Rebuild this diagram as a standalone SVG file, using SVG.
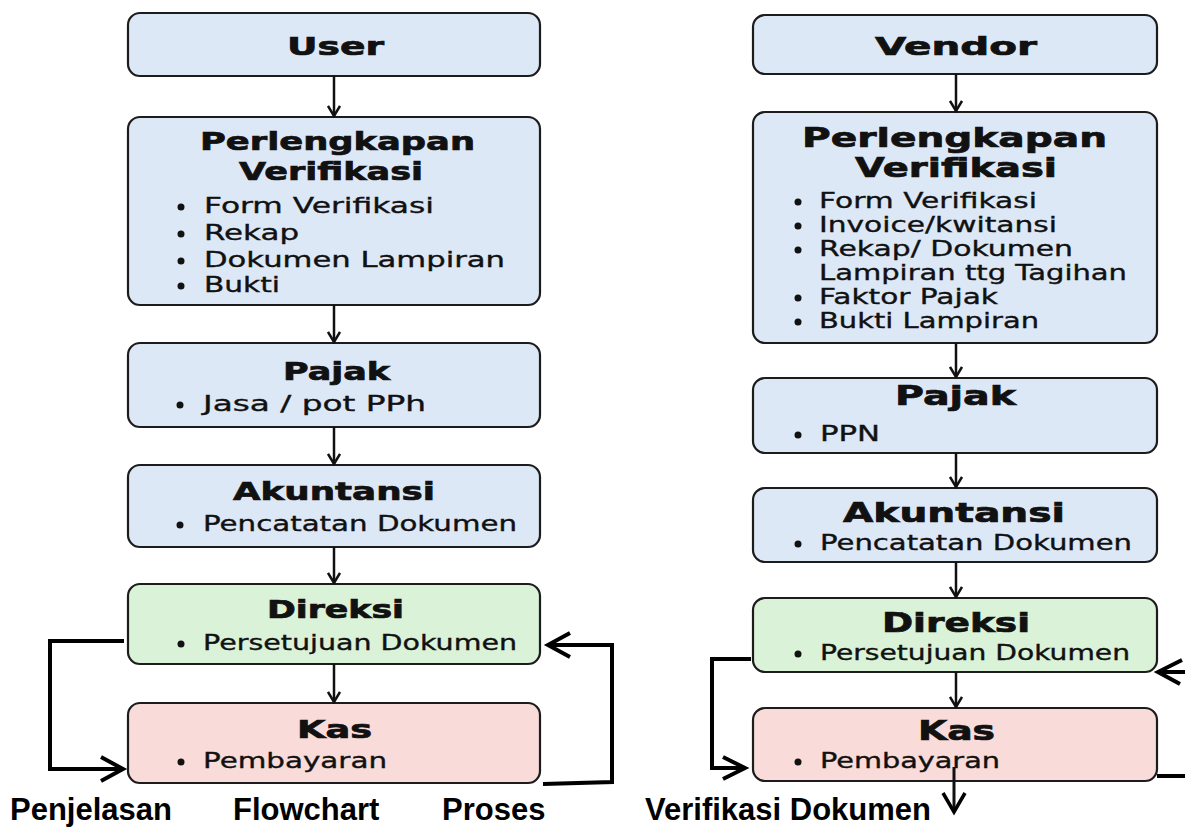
<svg xmlns="http://www.w3.org/2000/svg" width="1185" height="827" viewBox="0 0 1185 827">
<defs>
<style>
.box{stroke:#1c1c1c;stroke-width:2.2}
.blue{fill:#dde8f7}
.green{fill:#daf3d8}
.pink{fill:#f9dcd9}
.t{font-family:"DejaVu Sans",sans-serif;font-weight:bold;fill:#111;stroke:#111;stroke-width:0.7}
.b{font-family:"DejaVu Sans",sans-serif;fill:#111;font-size:21px;stroke:#111;stroke-width:0.35}
.dot{fill:#111}
.cap{font-family:"Liberation Sans",Arial,sans-serif;font-weight:bold;font-size:31px;fill:#000}
.c{fill:none;stroke:#111;stroke-width:2.5}
.lp{fill:none;stroke:#000;stroke-width:4;stroke-linejoin:miter}
</style>
<marker id="ah" markerWidth="14" markerHeight="14" viewBox="0 0 14 14" refX="12" refY="7" orient="auto" markerUnits="userSpaceOnUse">
<path d="M2,1 L12,7 L2,13" fill="none" stroke="#111" stroke-width="2.5"/>
</marker>
</defs>
<rect width="1185" height="827" fill="#fff"/>

<!-- Left column -->
<g id="user"><rect class="box blue" x="128" y="13" width="412" height="63" rx="12"/>
<text class="t" font-size="25" x="287" y="55" textLength="97" lengthAdjust="spacingAndGlyphs">User</text></g>

<g id="perlengkapan-user"><rect class="box blue" x="128" y="117" width="412" height="188" rx="12"/>
<text class="t" font-size="25" x="200" y="150" textLength="275" lengthAdjust="spacingAndGlyphs">Perlengkapan</text>
<text class="t" font-size="25" x="239" y="180" textLength="184" lengthAdjust="spacingAndGlyphs">Verifikasi</text>
<circle class="dot" cx="181" cy="207" r="3.5"/><text class="b" x="204" y="213" textLength="230" lengthAdjust="spacingAndGlyphs">Form Verifikasi</text>
<circle class="dot" cx="181" cy="234" r="3.5"/><text class="b" x="204" y="240" textLength="95" lengthAdjust="spacingAndGlyphs">Rekap</text>
<circle class="dot" cx="181" cy="261" r="3.5"/><text class="b" x="204" y="267" textLength="301" lengthAdjust="spacingAndGlyphs">Dokumen Lampiran</text>
<circle class="dot" cx="181" cy="286" r="3.5"/><text class="b" x="204" y="292" textLength="76" lengthAdjust="spacingAndGlyphs">Bukti</text></g>

<g id="pajak-user"><rect class="box blue" x="128" y="343" width="412" height="84" rx="12"/>
<text class="t" font-size="25" x="283" y="380" textLength="107" lengthAdjust="spacingAndGlyphs">Pajak</text>
<circle class="dot" cx="180" cy="405" r="3.5"/><text class="b" x="203" y="411" textLength="223" lengthAdjust="spacingAndGlyphs">Jasa / pot PPh</text></g>

<g id="akuntansi-user"><rect class="box blue" x="128" y="465" width="412" height="82" rx="12"/>
<text class="t" font-size="25" x="233" y="500" textLength="202" lengthAdjust="spacingAndGlyphs">Akuntansi</text>
<circle class="dot" cx="180" cy="525" r="3.5"/><text class="b" x="203" y="531" textLength="314" lengthAdjust="spacingAndGlyphs">Pencatatan Dokumen</text></g>

<g id="direksi-user"><rect class="box green" x="128" y="584" width="412" height="80" rx="12"/>
<text class="t" font-size="24" x="267" y="618" textLength="137" lengthAdjust="spacingAndGlyphs">Direksi</text>
<circle class="dot" cx="181" cy="644" r="3.5"/><text class="b" x="203" y="650" textLength="314" lengthAdjust="spacingAndGlyphs">Persetujuan Dokumen</text></g>

<g id="kas-user"><rect class="box pink" x="128" y="703" width="412" height="80" rx="12"/>
<text class="t" font-size="25" x="297" y="738" textLength="75" lengthAdjust="spacingAndGlyphs">Kas</text>
<circle class="dot" cx="181" cy="762" r="3.5"/><text class="b" x="203" y="768" textLength="184" lengthAdjust="spacingAndGlyphs">Pembayaran</text></g>

<!-- Right column -->
<g id="vendor"><rect class="box blue" x="753" y="15" width="404" height="59" rx="12"/>
<text class="t" font-size="25" x="875" y="55" textLength="162" lengthAdjust="spacingAndGlyphs">Vendor</text></g>

<g id="perlengkapan-vendor"><rect class="box blue" x="753" y="112" width="404" height="231" rx="12"/>
<text class="t" font-size="27" x="802" y="147" textLength="305" lengthAdjust="spacingAndGlyphs">Perlengkapan</text>
<text class="t" font-size="27" x="855" y="177" textLength="202" lengthAdjust="spacingAndGlyphs">Verifikasi</text>
<circle class="dot" cx="798" cy="202" r="3.5"/><text class="b" x="819" y="208" textLength="218" lengthAdjust="spacingAndGlyphs">Form Verifikasi</text>
<circle class="dot" cx="798" cy="226" r="3.5"/><text class="b" x="819" y="232" textLength="238" lengthAdjust="spacingAndGlyphs">Invoice/kwitansi</text>
<circle class="dot" cx="798" cy="250" r="3.5"/><text class="b" x="819" y="256" textLength="254" lengthAdjust="spacingAndGlyphs">Rekap/ Dokumen</text>
<text class="b" x="819" y="280" textLength="308" lengthAdjust="spacingAndGlyphs">Lampiran ttg Tagihan</text>
<circle class="dot" cx="798" cy="298" r="3.5"/><text class="b" x="819" y="304" textLength="179" lengthAdjust="spacingAndGlyphs">Faktor Pajak</text>
<circle class="dot" cx="798" cy="322" r="3.5"/><text class="b" x="819" y="328" textLength="220" lengthAdjust="spacingAndGlyphs">Bukti Lampiran</text></g>

<g id="pajak-vendor"><rect class="box blue" x="753" y="378" width="404" height="75" rx="12"/>
<text class="t" font-size="27" x="895" y="405" textLength="121" lengthAdjust="spacingAndGlyphs">Pajak</text>
<circle class="dot" cx="798" cy="435" r="3.5"/><text class="b" x="820" y="441" textLength="60" lengthAdjust="spacingAndGlyphs">PPN</text></g>

<g id="akuntansi-vendor"><rect class="box blue" x="753" y="488" width="404" height="74" rx="12"/>
<text class="t" font-size="27" x="843" y="522" textLength="222" lengthAdjust="spacingAndGlyphs">Akuntansi</text>
<circle class="dot" cx="798" cy="544" r="3.5"/><text class="b" x="820" y="550" textLength="312" lengthAdjust="spacingAndGlyphs">Pencatatan Dokumen</text></g>

<g id="direksi-vendor"><rect class="box green" x="753" y="598" width="404" height="74" rx="12"/>
<text class="t" font-size="26" x="882" y="632" textLength="148" lengthAdjust="spacingAndGlyphs">Direksi</text>
<circle class="dot" cx="798" cy="654" r="3.5"/><text class="b" x="820" y="660" textLength="310" lengthAdjust="spacingAndGlyphs">Persetujuan Dokumen</text></g>

<g id="kas-vendor"><rect class="box pink" x="753" y="708" width="404" height="73" rx="12"/>
<text class="t" font-size="26" x="918" y="740" textLength="77" lengthAdjust="spacingAndGlyphs">Kas</text>
<circle class="dot" cx="798" cy="762" r="3.5"/><text class="b" x="820" y="768" textLength="180" lengthAdjust="spacingAndGlyphs">Pembayaran</text></g>

<!-- Connectors -->
<g id="connectors">
<line class="c" x1="334" y1="76" x2="334" y2="116" marker-end="url(#ah)"/>
<line class="c" x1="334" y1="305" x2="334" y2="342" marker-end="url(#ah)"/>
<line class="c" x1="334" y1="427" x2="334" y2="464" marker-end="url(#ah)"/>
<line class="c" x1="334" y1="547" x2="334" y2="583" marker-end="url(#ah)"/>
<line class="c" x1="334" y1="664" x2="334" y2="702" marker-end="url(#ah)"/>

<line class="c" x1="956" y1="74" x2="956" y2="111" marker-end="url(#ah)"/>
<line class="c" x1="956" y1="343" x2="956" y2="377" marker-end="url(#ah)"/>
<line class="c" x1="956" y1="453" x2="956" y2="487" marker-end="url(#ah)"/>
<line class="c" x1="956" y1="562" x2="956" y2="597" marker-end="url(#ah)"/>
<line class="c" x1="956" y1="672" x2="956" y2="707" marker-end="url(#ah)"/>

<path class="lp" d="M124,641 H50 V769 H121"/>
<path class="lp" d="M101,757 L123,769 L101,781"/>
<path class="lp" d="M543,784 L612,782 V645 H550"/>
<path class="lp" d="M570,633 L548,645 L570,657"/>

<path class="lp" d="M751,659 H712 V768 H742"/>
<path class="lp" d="M723,757 L745,768 L723,779"/>
<path class="lp" d="M1185,672 H1160"/>
<path class="lp" d="M1182,660 L1158,672 L1180,684"/>
<path class="lp" d="M1157,776 H1185"/>
<path class="c" style="stroke-width:3" d="M954,767 V810"/>
<path class="lp" style="stroke-width:3.5" d="M943,793 L954,812 L965,793"/>
</g>

<g id="caption">
<text class="cap" x="10" y="820">Penjelasan</text>
<text class="cap" x="233" y="820">Flowchart</text>
<text class="cap" x="442" y="820">Proses</text>
<text class="cap" x="645" y="820">Verifikasi Dokumen</text>
</g>
</svg>
